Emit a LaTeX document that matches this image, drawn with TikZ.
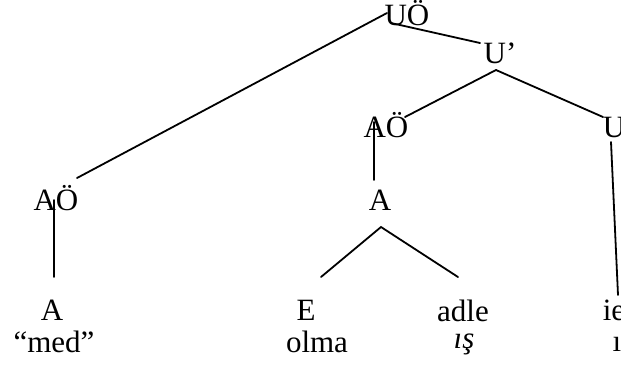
\documentclass[tikz,border=0pt]{standalone}
\usepackage{fontspec}
\setmainfont{Liberation Serif}
\begin{document}
\begin{tikzpicture}[x=1pt,y=-1pt,
  lbl/.style={anchor=base,inner sep=0pt,font=\fontsize{31}{32}\selectfont},
  edge/.style={line width=1.8pt,line cap=round}]
\useasboundingbox (0,0) rectangle (621,368);
\clip (0,0) rectangle (621,368);
% nodes
\node[lbl] (UO) at (407,25) {UÖ};
\node[lbl] (Up) at (500,63) {U’};
\node[lbl] (AOm) at (386,137) {AÖ};
\node[lbl] (U) at (614,137) {U};
\node[lbl] (AOl) at (56,210) {AÖ};
\node[lbl] (Am) at (380,210) {A};
\node[lbl] (Al) at (52,320) {A};
\node[lbl] (med) at (54,352) {“med”};
\node[lbl] (E) at (306,320) {E};
\node[lbl] (olma) at (317,352) {olma};
\node[lbl] (adle) at (463,321) {adle};
\node[lbl] (is) at (464,348) {\itshape ış};
\node[lbl] (ie) at (614,320) {ie};
\node[lbl] (i) at (617,351) {ı};
% connector end points
\coordinate (uoA) at (387,13);
\coordinate (uoB) at (391,23);
\coordinate (aolT) at (77,178);
\coordinate (upL) at (480,43);
\coordinate (upB) at (496,70);
\coordinate (aomT) at (405,117);
\coordinate (uT) at (603,117);
\coordinate (aomB) at (374,122);
\coordinate (amT) at (374,180);
\coordinate (amB) at (381,227);
\coordinate (eT) at (321,277);
\coordinate (adT) at (458,277);
\coordinate (aolB) at (54,200);
\coordinate (alT) at (54,277);
\coordinate (uB) at (611,142);
\coordinate (ieT) at (618,295);
% connectors
\draw[edge] (uoA) -- (aolT);
\draw[edge] (uoB) -- (upL);
\draw[edge] (upB) -- (aomT);
\draw[edge] (upB) -- (uT);
\draw[edge] (aomB) -- (amT);
\draw[edge] (eT) -- (amB) -- (adT);
\draw[edge] (aolB) -- (alT);
\draw[edge] (uB) -- (ieT);
\end{tikzpicture}
\end{document}
